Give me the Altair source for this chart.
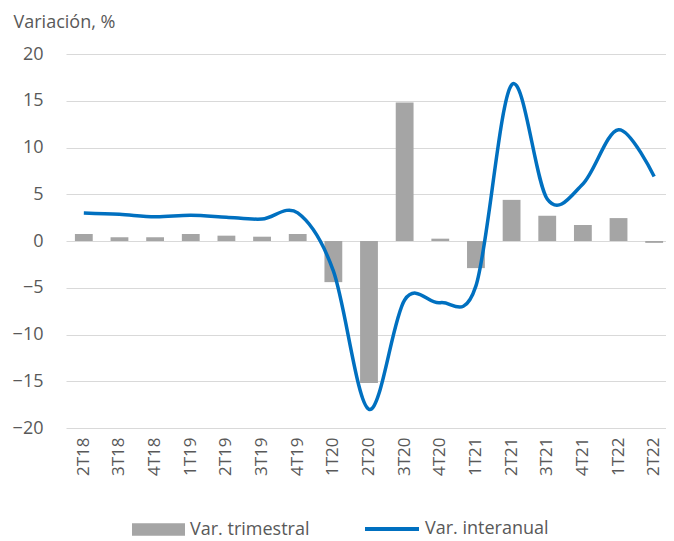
import altair as alt
import pandas as pd

quarters = ["2T18", "3T18", "4T18", "1T19", "2T19", "3T19", "4T19", "1T20", "2T20",
            "3T20", "4T20", "1T21", "2T21", "3T21", "4T21", "1T22", "2T22"]
var_trimestral = [0.75, 0.4, 0.4, 0.75, 0.57, 0.46, 0.75, -4.4, -15.2,
                  14.8, 0.25, -2.9, 4.4, 2.7, 1.7, 2.45, -0.2]
var_interanual = [3.0, 2.85, 2.6, 2.75, 2.55, 2.35, 3.0, -3.2, -18.0,
                  -6.3, -6.6, -4.8, 16.7, 4.5, 6.1, 11.9, 6.9]

df = pd.DataFrame({"q": quarters, "tri": var_trimestral, "inter": var_interanual})

FONT = "Open Sans"
GREY_TXT = "#595959"

x = alt.X("q:N", sort=quarters,
          scale=alt.Scale(domain=quarters, paddingInner=0, paddingOuter=0),
          axis=alt.Axis(title=None, labelAngle=-90, labelFontSize=17, labelColor=GREY_TXT,
                        labelFont=FONT, labelPadding=9, domain=False, ticks=False, grid=False))

y_axis = alt.Axis(values=list(range(-20, 25, 5)), title="Variación, %", titleAngle=0,
                  titleAlign="left", titleBaseline="alphabetic", titleX=-53, titleY=-27,
                  titleFontSize=18, titleFont=FONT, titleFontWeight="normal", titleColor=GREY_TXT,
                  labelFontSize=18, labelFont=FONT, labelColor=GREY_TXT, labelPadding=23,
                  domain=False, ticks=False, gridColor="#D9D9D9", gridWidth=1)

bars = alt.Chart(df).mark_bar(width=alt.RelativeBandSize(0.5)).encode(
    x=x,
    y=alt.Y("tri:Q", scale=alt.Scale(domain=[-20, 20], nice=False), axis=y_axis),
    fill=alt.Fill("s:N", scale=alt.Scale(domain=["Var. trimestral"], range=["#A5A5A5"]),
                  legend=alt.Legend(title=None, orient="none", legendX=66, legendY=449,
                                    symbolType="M-1,-0.24H1V0.24H-1Z", symbolSize=2809,
                                    symbolStrokeWidth=0, labelFontSize=18, labelFont=FONT,
                                    labelColor=GREY_TXT, labelOffset=5, padding=0)),
).transform_calculate(s="'Var. trimestral'")

line = alt.Chart(df).mark_line(interpolate="cardinal", strokeWidth=3.5).encode(
    x=x,
    y=alt.Y("inter:Q", axis=y_axis),
    stroke=alt.Stroke("s:N", scale=alt.Scale(domain=["Var. interanual"], range=["#0070C0"]),
                      legend=alt.Legend(title=None, orient="none", legendX=297, legendY=446,
                                        symbolType="M-1,0H1", symbolSize=2916,
                                        symbolStrokeWidth=4, labelFontSize=18, labelFont=FONT,
                                        labelColor=GREY_TXT, labelOffset=4, padding=0)),
).transform_calculate(s="'Var. interanual'")

chart = alt.layer(bars, line).resolve_scale(fill="independent", stroke="independent").properties(
    width=606, height=374,
    autosize=alt.AutoSizeParams(type="none"),
    padding={"left": 58, "top": 46, "right": -6, "bottom": 112},
).configure(background="white").configure_view(stroke=None)

chart.save("out.html", embed_options={"renderer": "svg", "actions": False})
